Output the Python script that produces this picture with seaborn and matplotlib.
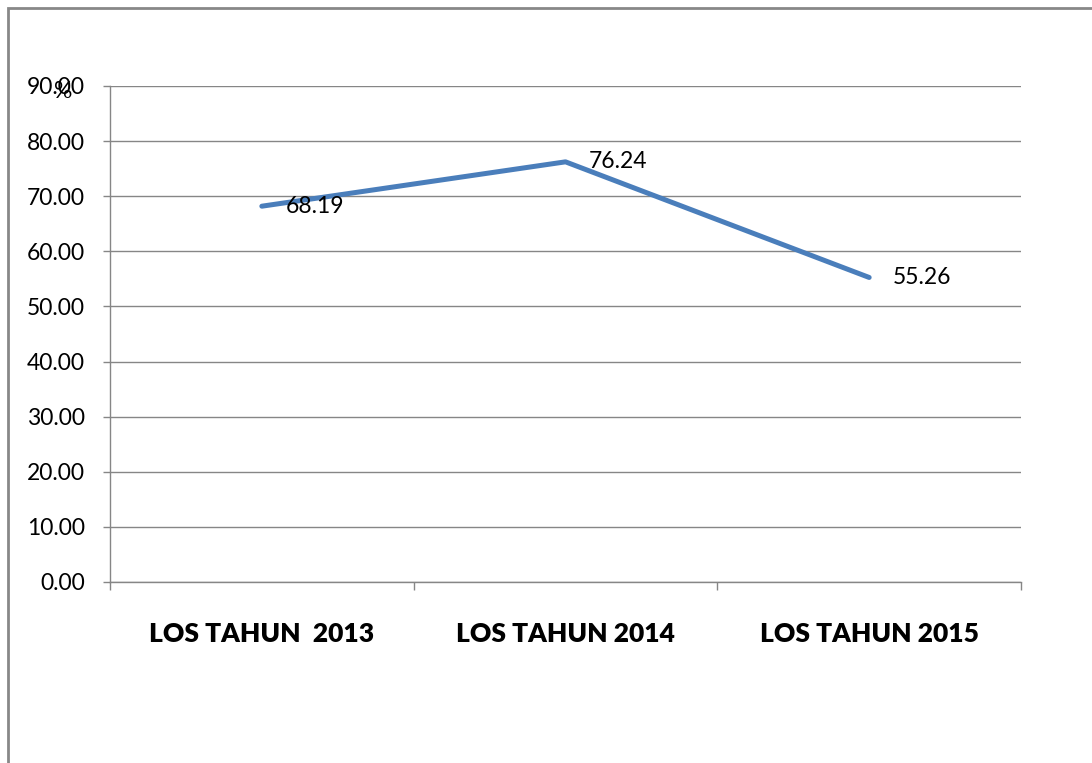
import matplotlib
matplotlib.use("Agg")
import matplotlib.pyplot as plt
import matplotlib.patches as mpatches
import seaborn as sns
import pandas as pd

categories = ["LOS TAHUN  2013", "LOS TAHUN 2014", "LOS TAHUN 2015"]
los_values = [68.19, 76.24, 55.26]
y_ticks = [0, 10, 20, 30, 40, 50, 60, 70, 80, 90]

sns.set_theme(style="white")
plt.rcParams['font.family'] = ['Lato', 'DejaVu Sans']
plt.rcParams['text.color'] = 'black'

df = pd.DataFrame({"kategori": categories, "los": los_values})

fig = plt.figure(figsize=(10.92, 7.63), dpi=100)
ax = fig.add_axes([110 / 1092, 1 - 582 / 763, 911 / 1092, 496 / 763])

sns.lineplot(data=df, x="kategori", y="los", sort=False, color="#4A7EBB",
             linewidth=3.6, ax=ax)

ax.set_ylim(0, 90)
ax.set_xlim(-0.5, 2.5)
ax.set_yticks(y_ticks)
ax.set_yticklabels([f"{t:.2f}" for t in y_ticks], fontsize=16.5, color="black")
ax.set_xticks(range(len(categories)))
ax.set_xticklabels(categories, fontsize=19, fontweight="heavy", color="black")
ax.set_xticks([-0.5, 0.5, 1.5, 2.5], minor=True)
ax.tick_params(axis="x", which="major", length=0, pad=29)
ax.tick_params(axis="x", which="minor", bottom=True, length=6, width=1,
               color="#868686", direction="out")
ax.tick_params(axis="y", length=5, width=1, color="#868686", pad=13, left=True, direction="out")
ax.set_xlabel("")
ax.set_ylabel("")

ax.grid(axis="y", color="#868686", linewidth=1)
ax.set_axisbelow(True)
for side in ["top", "right"]:
    ax.spines[side].set_visible(False)
for side in ["left", "bottom"]:
    ax.spines[side].set_color("#868686")
    ax.spines[side].set_linewidth(1)

for i, v in enumerate(los_values):
    ax.annotate(f"{v:.2f}", xy=(i, v), xytext=(17, 0), textcoords="offset points",
                va="center", ha="left", fontsize=16.5, color="black")

# sumbu y: label "%" menumpuk di atas 90.00 seperti aslinya
fig.text(63 / 1092, 1 - 92 / 763, "%", fontsize=16.5, ha="center", va="center", color="black")

border = mpatches.Rectangle((8 / 1092, -0.1), 1.2, 1 - 8 / 763 + 0.1,
                            transform=fig.transFigure, fill=False,
                            edgecolor="#888888", linewidth=2)
fig.patches.append(border)

fig.savefig("out.png", dpi=100)
